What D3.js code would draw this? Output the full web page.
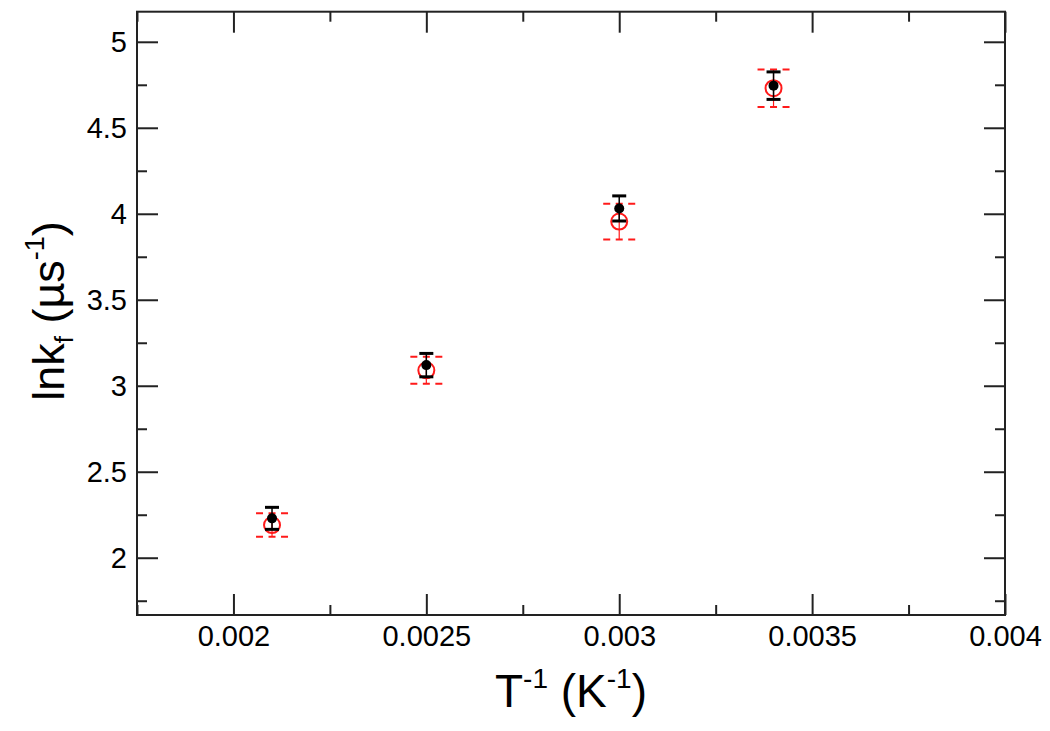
<!DOCTYPE html>
<html>
<head>
<meta charset="utf-8">
<script src="https://cdn.jsdelivr.net/npm/d3@7"></script>
<style>
  body { margin: 0; background: white; }
  svg { display: block; font-family: "Liberation Sans", Arial, sans-serif; }
</style>
</head>
<body>
<div class="chart"></div>
<script>
// data
var invT = [0.0021, 0.0025, 0.003, 0.0034];
var lnkBlack = [2.229, 3.12, 4.031, 4.745];
var errBlack = [0.064, 0.068, 0.073, 0.08];
var lnkRed = [2.19, 3.09, 3.955, 4.73];
var errRed = [0.068, 0.078, 0.104, 0.109];

var xTicks = [0.002, 0.0025, 0.003, 0.0035, 0.004];
var xMinor = [0.00175, 0.00225, 0.00275, 0.00325, 0.00375];
var yTicks = [2, 2.5, 3, 3.5, 4, 4.5, 5];
var yMinor = [1.75, 2.25, 2.75, 3.25, 3.75, 4.25, 4.75];

var width = 1050, height = 731;
var pLeft = 137, pRight = 1005, pTop = 11.7, pBottom = 615;

var svg = d3.select(".chart").append("svg")
    .attr("width", width)
    .attr("height", height);

var x = d3.scaleLinear().domain([0.00175, 0.004]).range([pLeft, pRight]);
var y = d3.scaleLinear().domain([1.667, 5.175]).range([pBottom, pTop]);

var fmt = d3.format("~g");
var axisColor = "#222";

// draws one side: major ticks with labels (or not) + minor ticks
function side(axisFn, scale, major, minor, tr, labels) {
    var g = svg.append("g").attr("transform", tr);
    g.call(axisFn(scale).tickValues(major).tickSize(-21).tickPadding(10)
        .tickFormat(labels ? fmt : ""));
    g.select(".domain").remove();
    var m = svg.append("g").attr("transform", tr);
    m.call(axisFn(scale).tickValues(minor).tickSize(-10).tickFormat(""));
    m.select(".domain").remove();
}

side(d3.axisBottom, x, xTicks, xMinor, "translate(0," + pBottom + ")", true);
side(d3.axisTop, x, xTicks, xMinor, "translate(0," + pTop + ")", false);
side(d3.axisLeft, y, yTicks, yMinor, "translate(" + pLeft + ",0)", true);
side(d3.axisRight, y, yTicks, yMinor, "translate(" + pRight + ",0)", false);

svg.selectAll("g.tick line").attr("stroke", axisColor).attr("stroke-width", 2);
svg.selectAll("g.tick text")
    .attr("font-size", 29)
    .attr("font-family", "Liberation Sans, Arial, sans-serif")
    .attr("fill", "#000");

// frame
svg.append("rect")
    .attr("x", pLeft)
    .attr("y", pTop)
    .attr("width", pRight - pLeft)
    .attr("height", pBottom - pTop)
    .attr("fill", "none")
    .attr("stroke", axisColor)
    .attr("stroke-width", 2);

// red series: thin line, dashed caps, open circle
var red = "#ff1a1a";
var ptsRed = invT.map((t, i) => ({t: t, v: lnkRed[i], e: errRed[i]}));
var ptsBlack = invT.map((t, i) => ({t: t, v: lnkBlack[i], e: errBlack[i]}));

svg.selectAll(".rbar").data(ptsRed).enter().append("line")
    .attr("x1", d => x(d.t)).attr("x2", d => x(d.t))
    .attr("y1", d => y(d.v - d.e)).attr("y2", d => y(d.v + d.e))
    .attr("stroke", red).attr("stroke-width", 1.2);

[-1, 1].forEach(function(s) {
    svg.selectAll(null).data(ptsRed).enter().append("line")
        .attr("x1", d => x(d.t) - 16).attr("x2", d => x(d.t) + 16)
        .attr("y1", d => y(d.v + s * d.e)).attr("y2", d => y(d.v + s * d.e))
        .attr("stroke", red).attr("stroke-width", 2)
        .attr("stroke-dasharray", "7,5.5");
});

svg.selectAll(".rdot").data(ptsRed).enter().append("circle")
    .attr("cx", d => x(d.t)).attr("cy", d => y(d.v))
    .attr("r", 8)
    .attr("fill", "none")
    .attr("stroke", red).attr("stroke-width", 2);

// black series: line, solid caps, filled dot
svg.selectAll(".bbar").data(ptsBlack).enter().append("line")
    .attr("x1", d => x(d.t)).attr("x2", d => x(d.t))
    .attr("y1", d => y(d.v - d.e)).attr("y2", d => y(d.v + d.e))
    .attr("stroke", "#000").attr("stroke-width", 1.5);

[-1, 1].forEach(function(s) {
    svg.selectAll(null).data(ptsBlack).enter().append("line")
        .attr("x1", d => x(d.t) - 7).attr("x2", d => x(d.t) + 7)
        .attr("y1", d => y(d.v + s * d.e)).attr("y2", d => y(d.v + s * d.e))
        .attr("stroke", "#000").attr("stroke-width", 3);
});

svg.selectAll(".bdot").data(ptsBlack).enter().append("circle")
    .attr("cx", d => x(d.t)).attr("cy", d => y(d.v))
    .attr("r", 5)
    .attr("fill", "#000");

// axis titles
var xl = svg.append("text")
    .attr("x", 571).attr("y", 707)
    .attr("text-anchor", "middle")
    .attr("font-size", 46);
xl.append("tspan").text("T");
xl.append("tspan").attr("font-size", 28).attr("dy", -19).text("-1");
xl.append("tspan").attr("dy", 19).text(" (K");
xl.append("tspan").attr("font-size", 28).attr("dy", -19).text("-1");
xl.append("tspan").attr("dy", 19).text(")");

var yl = svg.append("text")
    .attr("transform", "translate(64,311) rotate(-90)")
    .attr("text-anchor", "middle")
    .attr("font-size", 45);
yl.append("tspan").text("lnk");
yl.append("tspan").attr("font-size", 26).attr("dy", 9).text("f");
yl.append("tspan").attr("dy", -9).text(" (µs");
yl.append("tspan").attr("font-size", 27).attr("dy", -20).text("-1");
yl.append("tspan").attr("dy", 20).text(")");
</script>
</body>
</html>
